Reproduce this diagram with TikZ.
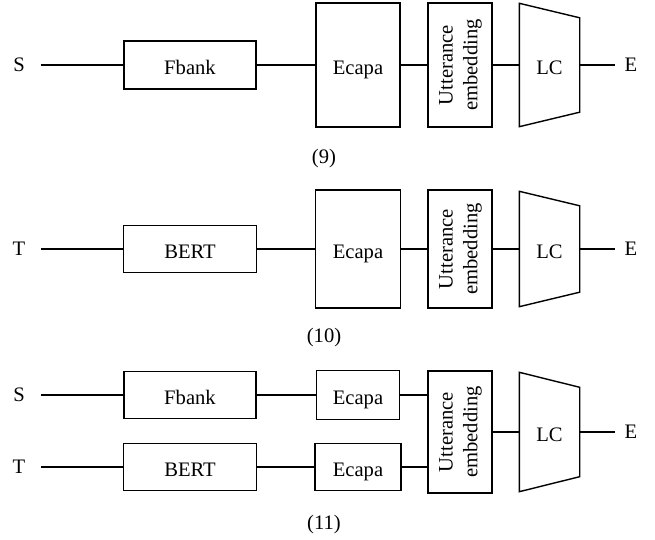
\documentclass[tikz,border=0pt]{standalone}
\usepackage{fontspec}
\setmainfont{Liberation Serif}
\usepackage{graphicx}
\usepackage{tikz}
\usetikzlibrary{positioning}
\tikzstyle{block} = [draw, rectangle, inner sep=0pt, text height=0.95em, text depth=0pt]
\tikzstyle{uttblock} = [draw, rectangle, inner sep=0pt, minimum width=32pt]
\tikzstyle{term} = [inner sep=0pt]
\tikzstyle{lcblock} = [rectangle, inner sep=0pt, minimum width=29.5pt, text height=0.95em, text depth=0pt]
\tikzstyle{numlabel} = [inner sep=0pt]
\newcommand{\uttext}{\rotatebox{90}{\begin{tabular}{@{}c@{}}Utterance\\embedding\end{tabular}}}

\begin{document}
\begin{tikzpicture}[auto, x=0.5pt, y=-0.5pt, line width=0.7pt, font=\fontsize{10.3pt}{12.4pt}\selectfont]
		\useasboundingbox (0,0) rectangle (655,540);
		% (9)
		\node [term] (s1) at (19,65) {S};
		\node [block, right of=s1, node distance=85.5pt, minimum width=66pt, minimum height=24pt] (fbank1) {Fbank};
		\node [block, right of=fbank1, node distance=84pt, minimum width=42pt, minimum height=62pt] (ecapa1) {Ecapa};
		\node [uttblock, right of=ecapa1, node distance=51pt, minimum height=62pt] (utt1) {\uttext};
		\node [lcblock, right of=utt1, node distance=44.75pt, minimum height=61pt] (lc1) {LC};
		\node [term, right of=lc1, node distance=40.75pt] (e1) {E};
		\node [numlabel] (cap1) at (324,159) {(9)};
		
		\draw ([xshift=7.6pt]s1.east) -- (fbank1);
		\draw (fbank1) -- (ecapa1);
		\draw (ecapa1) -- (utt1);
		\draw (utt1) -- (lc1);
		\draw (lc1) -- ([xshift=-4.3pt]e1.west);
		\draw (lc1.north west) -- ([yshift=-7.25pt]lc1.north east) -- ([yshift=7.25pt]lc1.south east) -- (lc1.south west) -- cycle;
		
		% (10)
		\node [term, below of=s1, node distance=92pt] (t2) {T};
		\node [block, below of=fbank1, node distance=92pt, minimum width=66.5pt, minimum height=23.5pt] (bert2) {BERT};
		\node [block, below of=ecapa1, node distance=92pt, minimum width=42.3pt, minimum height=59pt] (ecapa2) {Ecapa};
		\node [uttblock, below of=utt1, node distance=92pt, minimum height=59pt] (utt2) {\uttext};
		\node [lcblock, below of=lc1, node distance=92pt, minimum height=57pt] (lc2) {LC};
		\node [term, below of=e1, node distance=92pt] (e2) {E};
		\node [numlabel] (cap2) at (324,338) {(10)};
		
		\draw ([xshift=7.6pt]t2.east) -- (bert2);
		\draw (bert2) -- (ecapa2);
		\draw (ecapa2) -- (utt2);
		\draw (utt2) -- (lc2);
		\draw (lc2) -- ([xshift=-4.3pt]e2.west);
		\draw (lc2.north west) -- ([yshift=-7.25pt]lc2.north east) -- ([yshift=7.25pt]lc2.south east) -- (lc2.south west) -- cycle;
		
		% (11)
		\node [term, below of=t2, node distance=73pt] (s3) {S};
		\node [term, below of=s3, node distance=36pt] (t3) {T};
		\node [block, below of=bert2, node distance=73pt, minimum width=66pt, minimum height=23.25pt] (fbank3) {Fbank};
		\node [block, below of=fbank3, node distance=36pt, minimum width=66.5pt, minimum height=23.5pt] (bert3) {BERT};
		\node [block, below of=ecapa2, node distance=73pt, minimum width=41.5pt, minimum height=24.5pt] (ecapa3) {Ecapa};
		\node [block, below of=ecapa3, node distance=36pt, minimum width=43pt, minimum height=23.5pt] (ecapa4) {Ecapa};
		\node [uttblock, below of=utt2, node distance=91.5pt, minimum height=61pt] (utt3) {\uttext};
		\node [lcblock, below of=lc2, node distance=91.5pt, minimum height=59pt] (lc3) {LC};
		\node [term, below of=e2, node distance=91.5pt] (e3) {E};
		\node [numlabel] (cap3) at (324,525) {(11)};
		
		\draw ([xshift=7.6pt]s3.east) -- (fbank3);
		\draw ([xshift=7.6pt]t3.east) -- (bert3);
		\draw (fbank3) -- (ecapa3);
		\draw (bert3) -- (ecapa4);
		\draw (ecapa3) -- (ecapa3 -| utt3.west);
		\draw (ecapa4) -- (ecapa4 -| utt3.west);
		\draw (utt3) -- (lc3);
		\draw (lc3) -- ([xshift=-4.3pt]e3.west);
		\draw (lc3.north west) -- ([yshift=-7.5pt]lc3.north east) -- ([yshift=7.5pt]lc3.south east) -- (lc3.south west) -- cycle;
		
\end{tikzpicture}
\end{document}
